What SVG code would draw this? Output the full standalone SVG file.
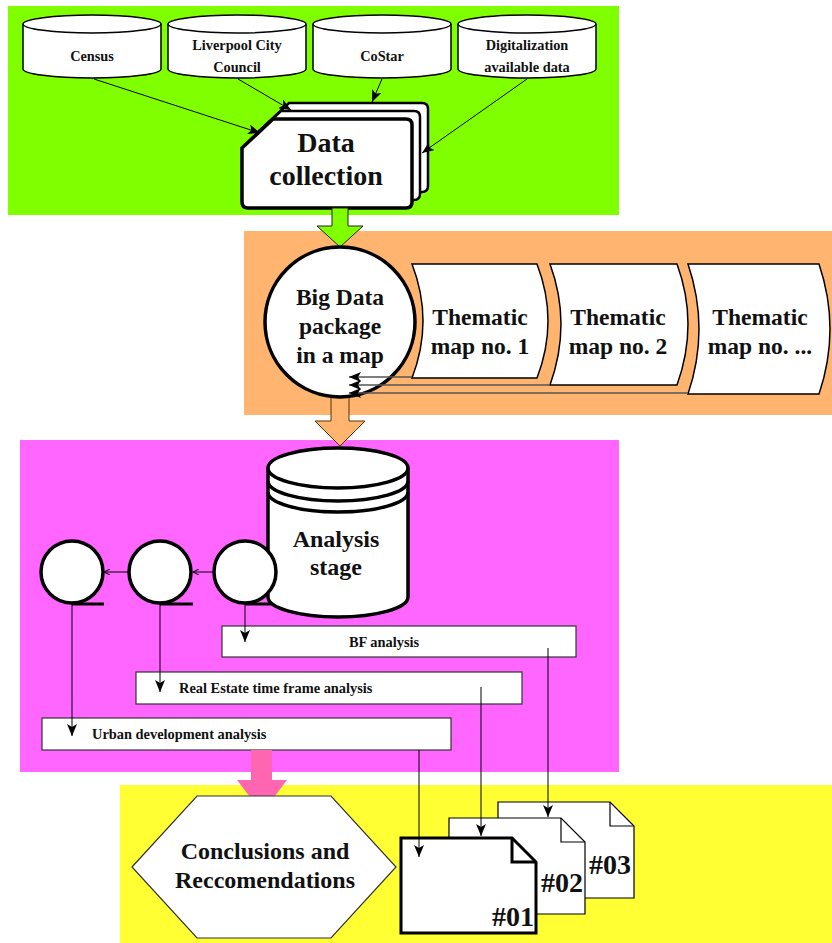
<svg xmlns="http://www.w3.org/2000/svg" width="832" height="943" viewBox="0 0 832 943">
<style>
.t{font-family:"Liberation Serif","Times New Roman",serif;font-weight:bold;fill:#111;text-anchor:middle}
.s{font-size:14.3px}
.m{font-size:23.5px}
.b{font-size:14.4px}
.w{fill:#fff;stroke:#000}
.n{fill:none;stroke:#000}
.c{fill:none;stroke:#000;stroke-width:1}
</style>
<defs>
<marker id="st" viewBox="0 0 12 10" refX="12" refY="5" markerWidth="12" markerHeight="10" markerUnits="userSpaceOnUse" orient="auto"><path d="M0,0 L12,5 L0,10 L3,5 Z" fill="#000"/></marker>
<marker id="op" viewBox="0 0 6 6" refX="6" refY="3" markerWidth="6" markerHeight="6" markerUnits="userSpaceOnUse" orient="auto"><path d="M0,0 L6,3 L0,6" fill="none" stroke="#000" stroke-width="1"/></marker>
<path id="dc" d="M242,148 L273,119 L406,119 Q412,119 412,125 L412,202 Q412,208 406,208 L248,208 Q242,208 242,202 Z"/>
<g id="cyl">
<path class="w" stroke-width="1.5" d="M0,18 A69,9 0 0 1 138,18 L138,63 A69,9 0 0 1 0,63 Z"/>
<path class="n" stroke-width="1.5" d="M0,18 A69,9 0 0 0 138,18"/>
</g>
</defs>
<rect x="0" y="0" width="832" height="943" fill="#fff"/>
<!-- panels -->
<rect x="8" y="6" width="611" height="209" fill="#7fff00"/>
<rect x="244" y="231" width="588" height="184" fill="#ffb570"/>
<rect x="20" y="440" width="599" height="332" fill="#ff66ff"/>
<rect x="120" y="785" width="712" height="158" fill="#ffff33"/>

<!-- top sources -->
<g id="census">
<use href="#cyl" transform="translate(23,6)"/>
<text class="t s" x="92" y="61">Census</text>
</g>
<g id="liverpool">
<use href="#cyl" transform="translate(168,6)"/>
<text class="t s" x="237" y="50">Liverpool City</text>
<text class="t s" x="237" y="72">Council</text>
</g>
<g id="costar">
<use href="#cyl" transform="translate(313,6)"/>
<text class="t s" x="382" y="61">CoStar</text>
</g>
<g id="digital">
<use href="#cyl" transform="translate(458,6)"/>
<text class="t s" x="527" y="50">Digitalization</text>
<text class="t s" x="527" y="72">available data</text>
</g>
<g id="datacollection">
<use href="#dc" class="w" stroke-width="2.5" transform="translate(16,-16)"/>
<use href="#dc" class="w" stroke-width="2.5" transform="translate(8,-8)"/>
<use href="#dc" class="w" stroke-width="3.5"/>
<text class="t" style="font-size:28px" x="326" y="152">Data</text>
<text class="t" style="font-size:28px" x="326" y="185">collection</text>
</g>

<!-- block arrows -->
<g id="arrow-green">
<path d="M332,208 L348,208 L348,226 L363,226 L340,247 L317,226 L332,226 Z" fill="#7fff00" stroke="#222" stroke-width="1"/>
</g>

<!-- orange stage -->
<g id="maps">
<g id="map1">
<path class="w" stroke-width="1.5" d="M412,264 L537,264 Q559,321 537,378 L412,378 Q434,321 412,264 Z"/>
<text class="t m" x="480" y="325">Thematic</text>
<text class="t m" x="480" y="354">map no. 1</text>
</g>
<g id="map2">
<path class="w" stroke-width="1.5" d="M550,264 L677,264 Q699,324 677,385 L550,385 Q572,324 550,264 Z"/>
<text class="t m" x="618" y="325">Thematic</text>
<text class="t m" x="618" y="354">map no. 2</text>
</g>
<g id="map3">
<path class="w" stroke-width="1.5" d="M688,264 L819,264 Q841,329 819,394 L688,394 Q710,329 688,264 Z"/>
<text class="t m" x="760" y="325">Thematic</text>
<text class="t m" x="760" y="354">map no. ...</text>
</g>
</g>
<g id="arrow-orange">
<path d="M331,395 L349,395 L349,421 L365,421 L340,446 L315,421 L331,421 Z" fill="#ffb570" stroke="#5a3000" stroke-width="1"/>
</g>
<g id="bigdata">
<circle class="w" stroke-width="3.5" cx="340" cy="322" r="75"/>
<text class="t m" x="340" y="305">Big Data</text>
<text class="t m" x="340" y="334">package</text>
<text class="t m" x="340" y="363">in a map</text>
</g>

<!-- analysis stage -->
<g id="seq1">
<line x1="72" y1="604" x2="104" y2="604" stroke="#000" stroke-width="3"/>
<circle class="w" stroke-width="3.5" cx="72" cy="572" r="31"/>
</g>
<g id="seq2">
<line x1="160" y1="604" x2="193" y2="604" stroke="#000" stroke-width="3"/>
<circle class="w" stroke-width="3.5" cx="160" cy="572" r="31"/>
</g>
<g id="seq3u">
<line x1="245" y1="604" x2="277" y2="604" stroke="#000" stroke-width="3"/>
</g>
<g id="analysis">
<path class="w" stroke-width="3.5" d="M268,468 A70,20 0 0 1 408,468 L408,597 A70,20 0 0 1 268,597 Z"/>
<path class="n" stroke-width="3.5" d="M268,468 A70,20 0 0 0 408,468 M268,481 A70,20 0 0 0 408,481 M268,492 A70,20 0 0 0 408,492"/>
<text class="t" style="font-size:24px" x="336" y="547">Analysis</text>
<text class="t" style="font-size:24px" x="336" y="575">stage</text>
</g>
<g id="seq3">
<circle class="w" stroke-width="3.5" cx="245" cy="572" r="31"/>
</g>
<g id="bf">
<rect x="222" y="626" width="354" height="31" fill="#fff" stroke="#333" stroke-width="1.2"/>
<text class="t b" x="384" y="647">BF analysis</text>
</g>
<g id="realestate">
<rect x="136" y="672" width="386" height="32" fill="#fff" stroke="#333" stroke-width="1.2"/>
<text class="t b" x="179" y="693" style="text-anchor:start">Real Estate time frame analysis</text>
</g>
<g id="urban">
<rect x="42" y="718" width="409" height="32" fill="#fff" stroke="#333" stroke-width="1.2"/>
<text class="t b" x="92" y="739" style="text-anchor:start">Urban development analysis</text>
</g>
<g id="arrow-pink">
<path d="M251,750 L272,750 L272,780 L287,780 L262,813 L237,780 L251,780 Z" fill="#ff66b2"/>
</g>

<!-- final stage -->
<g id="conclusions">
<path d="M132,867 L197,796 L331,796 L396,867 L331,938 L197,938 Z" fill="#fff" stroke="#333" stroke-width="1.2"/>
<text class="t" style="font-size:24px" x="265" y="859">Conclusions and</text>
<text class="t" style="font-size:24px" x="265" y="888">Reccomendations</text>
</g>
<g id="doc03">
<path class="w" stroke-width="1.2" d="M498,802 L610,802 L634,826 L634,898 L498,898 Z"/>
<path class="n" stroke-width="1.2" d="M610,802 L610,826 L634,826"/>
<text class="t" style="font-size:28px;text-anchor:end" x="631" y="874">#03</text>
</g>
<g id="doc02">
<path class="w" stroke-width="1.2" d="M449,818 L561,818 L585,842 L585,914 L449,914 Z"/>
<path class="n" stroke-width="1.2" d="M561,818 L561,842 L585,842"/>
<text class="t" style="font-size:28px;text-anchor:end" x="583" y="892">#02</text>
</g>
<g id="doc01">
<path class="w" stroke-width="3" d="M401,838 L512,838 L536,862 L536,933 L401,933 Z"/>
<path class="n" stroke-width="3" d="M512,838 L512,862 L536,862"/>
<text class="t" style="font-size:28px;text-anchor:end" x="534" y="926">#01</text>
</g>

<!-- connectors -->
<g id="connectors">
<line class="c" x1="94" y1="79" x2="260" y2="133" marker-end="url(#st)"/>
<line class="c" x1="238" y1="79" x2="291" y2="110" marker-end="url(#st)"/>
<line class="c" x1="382" y1="79" x2="372" y2="102" marker-end="url(#st)"/>
<line class="c" x1="527" y1="79" x2="422" y2="153" marker-end="url(#st)"/>
<line x1="412" y1="377" x2="349" y2="377" stroke="#555" stroke-width="1.5" marker-end="url(#st)"/>
<line x1="550" y1="385" x2="349" y2="385" stroke="#555" stroke-width="1.5" marker-end="url(#st)"/>
<line x1="688" y1="393" x2="349" y2="393" stroke="#555" stroke-width="1.5" marker-end="url(#st)"/>
<line class="c" x1="214" y1="572" x2="193" y2="572" marker-end="url(#op)"/>
<line class="c" x1="129" y1="572" x2="104" y2="572" marker-end="url(#op)"/>
<line class="c" x1="245" y1="604" x2="245" y2="642" marker-end="url(#st)"/>
<line class="c" x1="160" y1="604" x2="160" y2="692" marker-end="url(#st)"/>
<line class="c" x1="72" y1="604" x2="72" y2="736" marker-end="url(#st)"/>
<line class="c" x1="548" y1="648" x2="548" y2="817" marker-end="url(#st)"/>
<line class="c" x1="481" y1="687" x2="481" y2="836" marker-end="url(#st)"/>
<line class="c" x1="419" y1="750" x2="419" y2="857" marker-end="url(#st)"/>
</g>
</svg>
